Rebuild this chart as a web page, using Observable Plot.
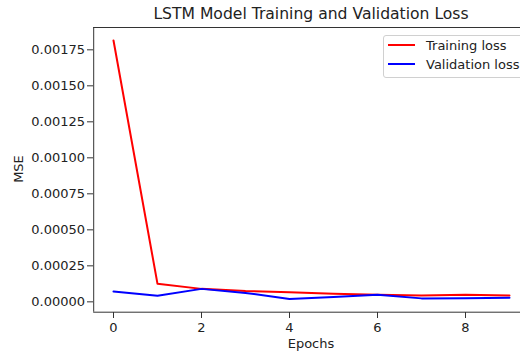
<!DOCTYPE html>
<html><head><meta charset="utf-8">
<script src="https://cdn.jsdelivr.net/npm/d3@7"></script>
<script src="https://cdn.jsdelivr.net/npm/@observablehq/plot@0.6"></script>
<style>
body{margin:0;background:#fff;}
#wrap{position:relative;width:520px;height:353px;overflow:hidden;font-family:"DejaVu Sans",sans-serif;color:#222;}
#wrap svg{position:absolute;left:0;top:0;}
.title{position:absolute;top:5px;left:311px;transform:translateX(-50%);font-size:15.6px;white-space:nowrap;}
.xlabel{position:absolute;top:336px;left:311px;transform:translateX(-50%);font-size:13px;white-space:nowrap;}
.ylabel{position:absolute;left:18px;top:169px;transform:translate(-50%,-50%) rotate(-90deg);font-size:13px;white-space:nowrap;}
.legend{position:absolute;left:383px;top:35px;width:160px;height:41px;border:1px solid #d0d0d0;border-radius:3px;background:rgba(255,255,255,0.8);font-size:13px;}
.legend .row{position:absolute;left:4px;height:16px;display:flex;align-items:center;white-space:nowrap;}
.legend .sw{width:27px;height:2px;margin-right:11px;}
</style></head><body>
<div id="wrap"></div>
<script>
const epochs = [0, 1, 2, 3, 4, 5, 6, 7, 8, 9];
const trainingLoss = [0.001815, 0.000125, 0.00009, 0.000075, 0.000067, 0.000056, 0.00005, 0.000044, 0.00005, 0.000044];
const validationLoss = [0.000072, 0.000042, 0.00009, 0.000062, 0.00002, 0.000033, 0.00005, 0.000024, 0.000025, 0.000028];
const seriesNames = ["Training loss", "Validation loss"];
const seriesColors = ["red", "blue"];
const xTicks = [0, 2, 4, 6, 8];
const yTicks = [0, 0.00025, 0.0005, 0.00075, 0.001, 0.00125, 0.0015, 0.00175];

const rows = [];
epochs.forEach((e, i) => {
  rows.push({epoch: e, loss: trainingLoss[i], series: seriesNames[0]});
  rows.push({epoch: e, loss: validationLoss[i], series: seriesNames[1]});
});

const xMin = -0.45, xMax = 9.45;
const yMin = -0.000072, yMax = 0.001905;

const chart = Plot.plot({
  width: 520,
  height: 353,
  marginLeft: 93,
  marginRight: 0,
  marginTop: 27,
  marginBottom: 41,
  style: {fontFamily: "DejaVu Sans, sans-serif", fontSize: "13px", color: "#222", background: "transparent"},
  x: {domain: [xMin, xMax], range: [93.2, 528.8]},
  y: {domain: [yMin, yMax], range: [311.7, 27]},
  color: {domain: seriesNames, range: seriesColors},
  marks: [
    Plot.ruleX([xMin], {y1: yMin, y2: yMax, stroke: "#333", strokeWidth: 1}),
    Plot.ruleY([yMin, yMax], {x1: xMin, x2: xMax, stroke: "#333", strokeWidth: 1}),
    Plot.axisX({ticks: xTicks, tickFormat: d3.format("d"), tickSize: 6, tickPadding: 4.5, label: null, stroke: "#333", fill: "#222"}),
    Plot.axisY({ticks: yTicks, tickFormat: d3.format(".5f"), tickSize: 6, tickPadding: 2.5, label: null, stroke: "#333", fill: "#222"}),
    Plot.line(rows, {x: "epoch", y: "loss", z: "series", stroke: "series", strokeWidth: 2})
  ]
});

const wrap = document.getElementById("wrap");
wrap.appendChild(chart);

const addDiv = (cls, text) => { const d = document.createElement("div"); d.className = cls; d.textContent = text; wrap.appendChild(d); return d; };
addDiv("title", "LSTM Model Training and Validation Loss");
addDiv("xlabel", "Epochs");
addDiv("ylabel", "MSE");

const legend = document.createElement("div");
legend.className = "legend";
seriesNames.forEach((name, i) => {
  const row = document.createElement("div");
  row.className = "row";
  row.style.top = (1 + i * 19) + "px";
  const sw = document.createElement("span");
  sw.className = "sw";
  sw.style.background = seriesColors[i];
  const t = document.createElement("span");
  t.textContent = name;
  row.appendChild(sw); row.appendChild(t);
  legend.appendChild(row);
});
wrap.appendChild(legend);
</script>
</body></html>
